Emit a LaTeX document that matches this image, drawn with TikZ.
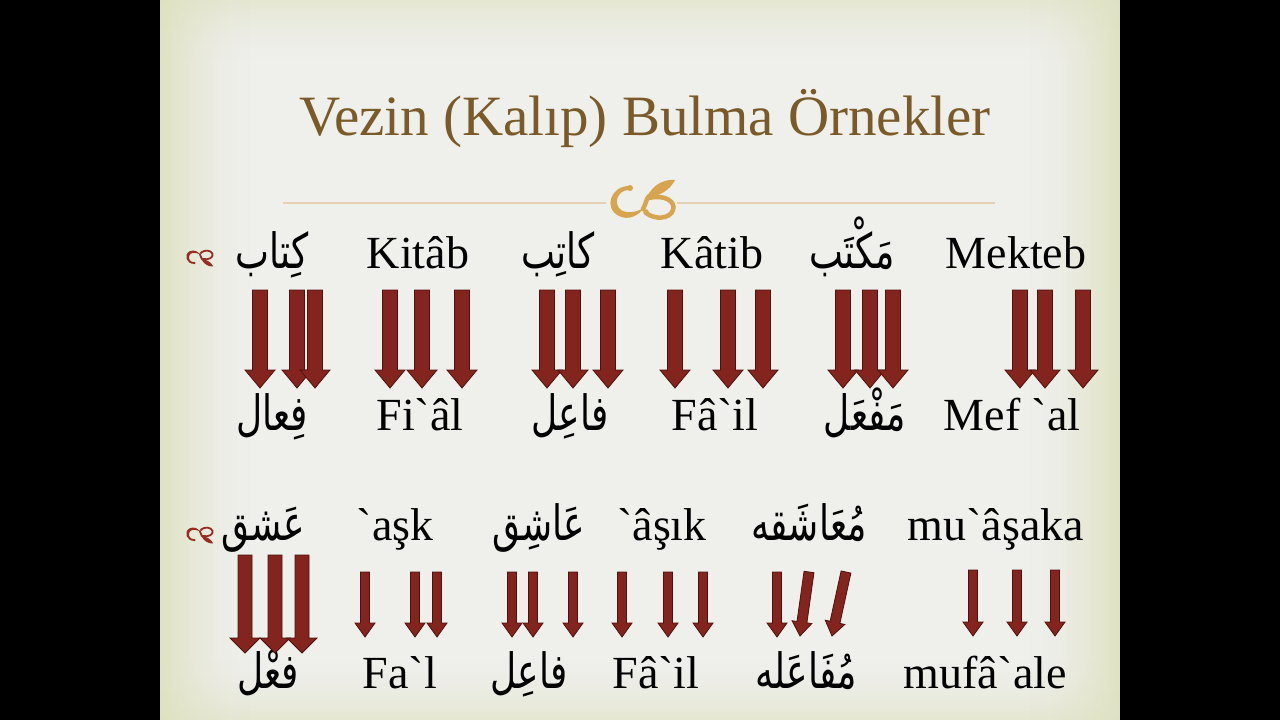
\documentclass[tikz,border=0pt]{standalone}
\usepackage{fontspec}
\setmainfont{Liberation Serif}
\newfontfamily\latfont{Liberation Serif}
\newfontfamily\arabicfont[Script=Arabic]{DejaVu Sans}
\TeXXeTstate=1
\usetikzlibrary{calc}
\definecolor{titlec}{RGB}{122,90,40}
\definecolor{linec}{RGB}{228,208,180}
\definecolor{ornc}{RGB}{215,165,80}
\definecolor{bulc}{RGB}{150,45,35}
\definecolor{arrf}{RGB}{132,36,30}
\definecolor{arrd}{RGB}{78,18,14}
\definecolor{bgin}{RGB}{239,239,236}
\definecolor{bgedge}{RGB}{222,225,192}
\newcommand\blkarrow[7]{%
  \coordinate (ba) at (#1,#2);
  \coordinate (bb) at (#3,#4);
  \coordinate (bh) at ($(bb)!#7pt!(ba)$);
  \filldraw[blockarrow] ($(ba)!#5pt!90:(bb)$) -- ($(bh)!#5pt!-90:(ba)$) -- ($(bh)!#6pt!-90:(ba)$) -- (bb)
     -- ($(bh)!#6pt!90:(ba)$) -- ($(bh)!#5pt!90:(ba)$) -- ($(ba)!#5pt!-90:(bb)$) -- cycle;}
\newcommand\ar[1]{\scalebox{1}[1.35]{\beginR #1\endR}}
\tikzset{
  titlestyle/.style={font=\latfont\fontsize{57}{62}\selectfont, text=titlec, anchor=base, inner sep=0},
  lat/.style={font=\latfont\fontsize{46}{50}\selectfont, anchor=base, inner sep=0},
  arb/.style={font=\arabicfont\fontsize{36}{40}\selectfont, anchor=base, inner sep=0},
  blockarrow/.style={fill=arrf, draw=arrd, line width=0.8pt, line join=miter},
  pics/orn/.style={code={
    \fill (-12,-14) .. controls (-30,-14) and (-38,8) .. (-22,16) .. controls (-12,21) and (-2,15) .. (3,8)
       .. controls (-4,12) and (-14,14) .. (-20,10) .. controls (-28,4) and (-24,-10) .. (-12,-10) -- cycle;
    \fill (-11,-12) circle (3);
    \draw[line cap=round] (2,9) .. controls (5,4) and (5,-1) .. (8,-4);
    \fill (6,-3) .. controls (12,-16) and (24,-21) .. (34,-20) .. controls (29,-10) and (18,-3) .. (6,-3) -- cycle;
    \draw[line cap=round] (8,-2) .. controls (24,-6) and (35,2) .. (32,10) .. controls (29,19) and (14,20) .. (5,13);
    \fill (5,12) circle (2.8);
  }}
}
\begin{document}
\begin{tikzpicture}[x=1pt,y=-1pt]
\useasboundingbox (0,0) rectangle (1280,720);
\fill[black] (0,0) rectangle (1280,720);
\fill[bgin] (160,0) rectangle (1120,720);
% soft tinted edges, drawn as stepped strips
\foreach \i in {0,...,19}{
  \pgfmathsetmacro\op{0.55*(1-\i/20)^1.6}
  \fill[bgedge, opacity=\op] (160,{3*\i}) rectangle (1120,{3*\i+3});
  \fill[bgedge, opacity=\op] (160,{720-3*\i-3}) rectangle (1120,{720-3*\i});
}
\foreach \i in {0,...,29}{
  \pgfmathsetmacro\op{0.9*(1-\i/30)^1.6}
  \fill[bgedge, opacity=\op] ({160+3*\i},0) rectangle ({163+3*\i},720);
  \fill[bgedge, opacity=\op] ({1117-3*\i},0) rectangle ({1120-3*\i},720);
}
% title
\node[titlestyle] (title) at (645,135) {Vezin (Kalıp) Bulma Örnekler};
\coordinate (la) at (283,203);
\coordinate (lm1) at (606,203);
\coordinate (lm2) at (677,203);
\coordinate (lb) at (995,203);
\draw[linec, line width=1.6pt] (la) -- (lm1) (lm2) -- (lb);
\pic[color=ornc, line width=4.5pt] at (641,200) {orn};
% bullets
\pic[color=bulc, line width=1.8pt, scale=0.42, yscale=-1] at (199,258) {orn};
\pic[color=bulc, line width=1.8pt, scale=0.42, yscale=-1] at (199,535) {orn};
% row 1 top
\node[arb] (a1) at (272,268) {\ar{كِتاب}};
\node[lat] (t1) at (418,268) {Kitâb};
\node[arb] (a2) at (558,268) {\ar{كاتِب}};
\node[lat] (t2) at (712,268) {Kâtib};
\node[arb] (a3) at (852,268) {\ar{مَكْتَب}};
\node[lat] (t3) at (1016,268) {Mekteb};
% row 1 bottom
\node[arb] (b1) at (272,430) {\ar{فِعال}};
\node[lat] (u1) at (420,430) {Fi`âl};
\node[arb] (b2) at (570,430) {\ar{فاعِل}};
\node[lat] (u2) at (715,430) {Fâ`il};
\node[arb] (b3) at (865,430) {\ar{مَفْعَل}};
\node[lat] (u3) at (1012,430) {Mef `al};
% row 2 top
\node[arb] (c1) at (263,540) {\ar{عَشق}};
\node[lat] (v1) at (395,540) {`aşk};
\node[arb] (c2) at (539,540) {\ar{عَاشِق}};
\node[lat] (v2) at (662,540) {`âşık};
\node[arb] (c3) at (809,540) {\ar{مُعَاشَقه}};
\node[lat] (v3) at (996,540) {mu`âşaka};
% row 2 bottom
\node[arb] (d1) at (268,688) {\ar{فعْل}};
\node[lat] (w1) at (400,688) {Fa`l};
\node[arb] (d2) at (529,688) {\ar{فاعِل}};
\node[lat] (w2) at (656,688) {Fâ`il};
\node[arb] (d3) at (806,688) {\ar{مُفَاعَله}};
\node[lat] (w3) at (985,688) {mufâ`ale};
% row 1 arrows
\foreach \x in {260,297,315,390,422,462,547,573,608,675,728,763,843,870,893,1020,1045,1083}
  {\blkarrow{\x}{290}{\x}{388}{7.5}{15}{18}}
% row 2 arrows
\foreach \x in {245,275,302}
  {\blkarrow{\x}{555}{\x}{653}{7}{15}{15}}
\foreach \x in {365,415,437,512,533,573,622,668,703,777}
  {\blkarrow{\x}{572}{\x}{637}{4.5}{10}{14}}
\blkarrow{809}{572}{800}{636}{5}{10}{14}
\blkarrow{846}{572}{832}{636}{5}{10}{14}
\foreach \x in {973,1017,1055}
  {\blkarrow{\x}{570}{\x}{636}{4.5}{10}{14}}
\end{tikzpicture}
\end{document}
